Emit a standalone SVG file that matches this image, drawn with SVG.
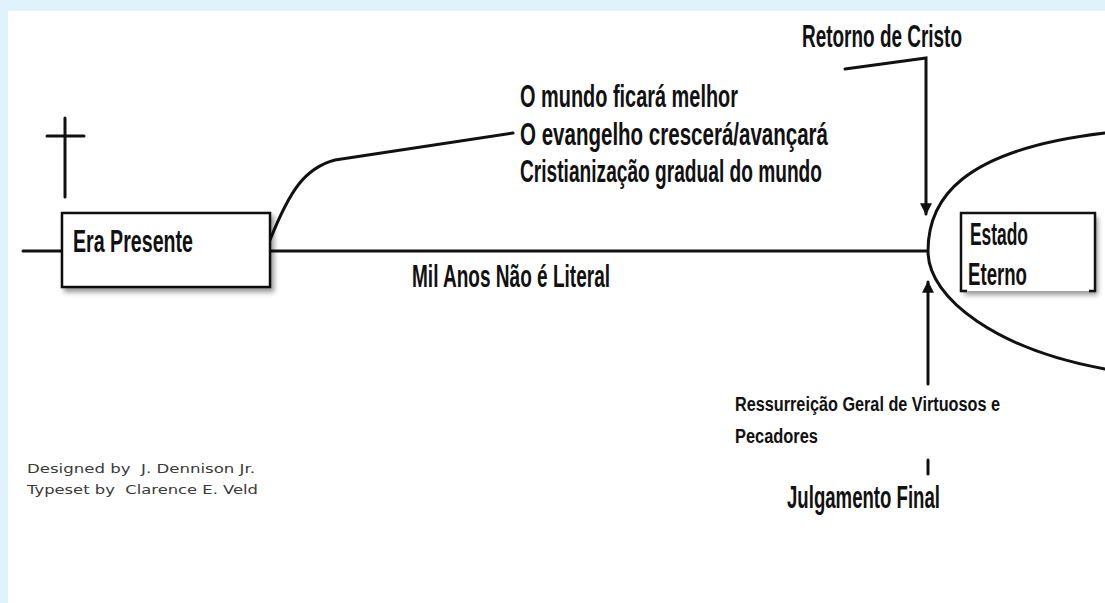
<svg xmlns="http://www.w3.org/2000/svg" width="1105" height="603" viewBox="0 0 1105 603">
<defs>
<style>
.ln{fill:none;stroke:#111;stroke-width:3;stroke-linecap:round}
.box{fill:#fff;stroke:#111;stroke-width:2.5}
.t{font-family:"Liberation Sans",Arial,sans-serif;font-weight:bold;font-size:32px;fill:#111}
.s{font-family:"Liberation Sans",Arial,sans-serif;font-weight:bold;font-size:19.5px;fill:#111}
.c{font-family:"DejaVu Sans",Verdana,sans-serif;font-size:13px;fill:#3a3a3a}
</style>
<filter id="sh" x="-10%" y="-10%" width="130%" height="140%">
<feDropShadow dx="3" dy="4" stdDeviation="2.5" flood-color="#000" flood-opacity="0.4"/>
</filter>
<marker id="ah" viewBox="0 0 10 10" refX="9" refY="5" markerWidth="4.5" markerHeight="4" orient="auto-start-reverse" markerUnits="strokeWidth">
<path d="M0,0 L10,5 L0,10 z" fill="#111"/>
</marker>
</defs>
<rect x="0" y="0" width="1105" height="603" fill="#e0f2fc"/>
<rect x="8" y="11" width="1097" height="592" fill="#fff"/>

<g id="connectors">
<line class="ln" x1="23" y1="251" x2="926" y2="251"/>
<path class="ln" d="M270,240 C290,190 305,168 335,160 L513,133"/>
<path class="ln" d="M1105,133 C960,150 928,200 928,251 C928,300 1000,350 1105,369"/>
<path class="ln" d="M845,69 L926,58 L926,214" marker-end="url(#ah)"/>
<path class="ln" d="M928,384 L928,282" marker-end="url(#ah)"/>
<line class="ln" x1="928" y1="460" x2="928" y2="474" stroke-width="3.5"/>
</g>

<g id="cross">
<line class="ln" x1="65" y1="118" x2="65" y2="197" stroke-width="4.5"/>
<line class="ln" x1="47" y1="136" x2="84" y2="136" stroke-width="4.5"/>
</g>

<g id="era-presente">
<rect class="box" x="62" y="213" width="208" height="74" filter="url(#sh)"/>
<text class="t" x="73" y="252" textLength="120" lengthAdjust="spacingAndGlyphs">Era Presente</text>
</g>

<g id="notes">
<text class="t" x="520" y="107" textLength="218" lengthAdjust="spacingAndGlyphs">O mundo ficará melhor</text>
<text class="t" x="520" y="144.5" textLength="308" lengthAdjust="spacingAndGlyphs">O evangelho crescerá/avançará</text>
<text class="t" x="520" y="182" textLength="302" lengthAdjust="spacingAndGlyphs">Cristianização gradual do mundo</text>
</g>

<g id="mil-anos">
<text class="t" x="412" y="287" textLength="198" lengthAdjust="spacingAndGlyphs">Mil Anos Não é Literal</text>
</g>

<g id="retorno">
<text class="t" x="802" y="47" textLength="160" lengthAdjust="spacingAndGlyphs">Retorno de Cristo</text>
</g>

<g id="estado-eterno">
<rect x="961" y="213" width="134" height="78" fill="#fff" filter="url(#sh)"/>
<path d="M967,291 H961 V213 H1095 V291 H1089" fill="none" stroke="#111" stroke-width="2.5"/>
<text class="t" x="970" y="245" textLength="58" lengthAdjust="spacingAndGlyphs">Estado</text>
<text class="t" x="968" y="285" textLength="59" lengthAdjust="spacingAndGlyphs">Eterno</text>
</g>

<g id="ressurreicao">
<text class="s" x="735" y="411" textLength="265" lengthAdjust="spacingAndGlyphs">Ressurreição Geral de Virtuosos e</text>
<text class="s" x="735" y="443" textLength="83" lengthAdjust="spacingAndGlyphs">Pecadores</text>
</g>

<g id="julgamento">
<text class="t" x="787" y="508" textLength="153" lengthAdjust="spacingAndGlyphs">Julgamento Final</text>
</g>

<g id="credits">
<text class="c" x="27" y="473" textLength="228" lengthAdjust="spacingAndGlyphs" xml:space="preserve">Designed by  J. Dennison Jr.</text>
<text class="c" x="27" y="494" textLength="231" lengthAdjust="spacingAndGlyphs" xml:space="preserve">Typeset by  Clarence E. Veld</text>
</g>
</svg>
